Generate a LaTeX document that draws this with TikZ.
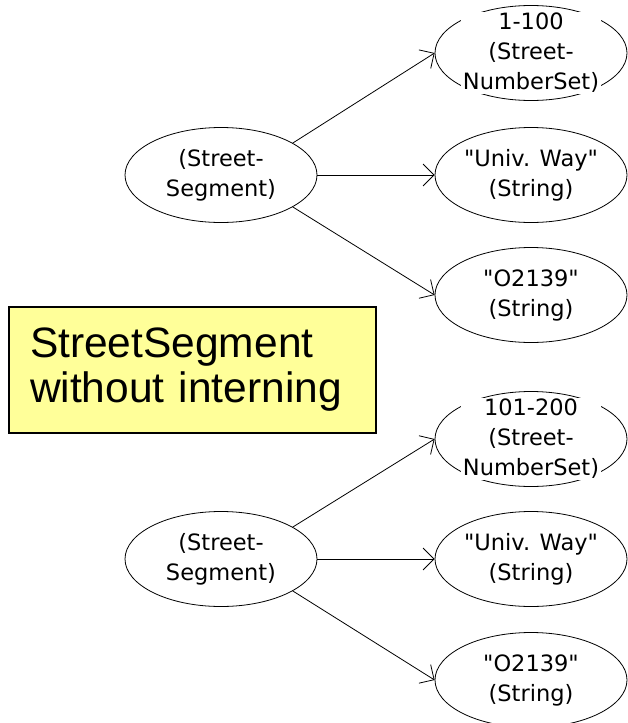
\documentclass[tikz,border=0pt]{standalone}
\usepackage{fontspec}
\usetikzlibrary{arrows.meta,shapes.geometric}
\newfontfamily\objfont{DejaVu Sans}
\newfontfamily\notefont{Liberation Sans}
\definecolor{notefill}{HTML}{FFFF99}
\begin{document}
\begin{tikzpicture}[x=1pt,y=-1pt,
        obj/.style={draw,ellipse,line width=0.8pt,minimum width=192pt,minimum height=95pt,inner sep=0pt,align=center,font=\objfont\fontsize{22.5}{30}\selectfont},
        objtext/.style={fill=white,inner sep=1.5pt,align=center,font=\objfont\fontsize{22.5}{30}\selectfont},
        link/.style={line width=0.8pt,-{Straight Barb[length=11pt,width=22pt,line width=0.8pt]}}]
    \useasboundingbox (0,0) rectangle (627,723);
    % without interning: two segments, each with its own objects
    \node[obj] (seg1) at (221,175) {(Street-\\Segment)};
    \node[obj] (set1) at (531,53) {};
    \node[objtext] at (set1) {1-100\\(Street-\\NumberSet)};
    \node[obj] (way1) at (531,175) {"Univ. Way"\\(String)};
    \node[obj] (zip1) at (531,295) {"O2139"\\(String)};
    \draw[link] (seg1.24) -- (set1.west);
    \draw[link] (seg1.east) -- (way1.west);
    \draw[link] (seg1.-24) -- (zip1.west);
    \node[obj] (seg2) at (221,559) {(Street-\\Segment)};
    \node[obj] (set2) at (531,439) {};
    \node[objtext] at (set2) {101-200\\(Street-\\NumberSet)};
    \node[obj] (way2) at (531,559) {"Univ. Way"\\(String)};
    \node[obj] (zip2) at (531,680) {"O2139"\\(String)};
    \draw[link] (seg2.24) -- (set2.west);
    \draw[link] (seg2.east) -- (way2.west);
    \draw[link] (seg2.-24) -- (zip2.west);
    \node[draw,line width=1.5pt,fill=notefill,minimum width=367pt,minimum height=126pt,text width=325pt,inner xsep=21pt,align=left,font=\notefont\fontsize{42.5}{45}\selectfont] (note) at (192.5,370) {StreetSegment\\without interning};
\end{tikzpicture}
\end{document}
